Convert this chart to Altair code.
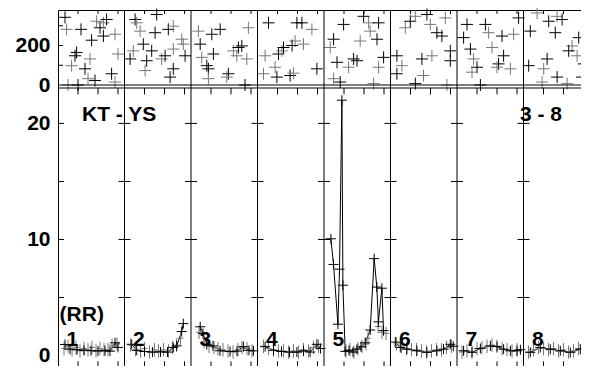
import altair as alt
import pandas as pd

FONT = "Liberation Sans"
SEG_HOURS = 3.325          # time span of one IF segment (hours)
N_SEG = 8
CHANNELS = [1, 2, 3, 4, 5, 6, 7, 8]
HOUR_TICKS = [1, 2, 3]
AMP_TICKS = [5, 10, 15, 20]
PHASE_TICKS = [100, 200, 300]

TITLE = "Freq =\u00a0\u00a043.1277 GHz, Bw =\u00a0\u00a0\u00a015.000 MHz\u00a0\u00a0Calibrate"

# ---- phase panel: (t [h], phase [deg], shade) per IF ----
PH1 = [(0.35, 343, 'k'), (0.43, 282, 'g'), (1.15, 282, 'k'), (1.93, 323, 'g'), (2.1, 290, 'k'),
       (2.27, 315, 'g'), (2.43, 332, 'k'), (1.68, 227, 'k'), (2.27, 248, 'k'), (2.85, 257, 'g'),
       (0.93, 165, 'k'), (0.85, 148, 'k'), (1.6, 132, 'g'), (0.68, 98, 'g'), (1.35, 82, 'k'),
       (3.0, 157, 'g'), (2.68, 57, 'k'), (1.5, 32, 'g'), (1.85, 23, 'k'), (2.85, 15, 'g'),
       (0.5, 0, 'g'), (1.0, 0, 'k')]
PH2 = [(0.53, 332, 'k'), (0.61, 315, 'g'), (1.61, 357, 'k'), (0.78, 273, 'g'), (1.53, 265, 'k'),
       (2.19, 282, 'k'), (2.44, 298, 'g'), (2.86, 232, 'g'), (0.94, 207, 'k'), (1.36, 173, 'k'),
       (0.44, 173, 'g'), (0.28, 132, 'k'), (1.11, 123, 'k'), (1.86, 132, 'g'), (2.03, 148, 'k'),
       (2.94, 207, 'g'), (3.03, 148, 'k'), (2.44, 182, 'g'), (1.03, 73, 'g'), (2.44, 82, 'k'),
       (2.28, 40, 'k')]
PH3 = [(0.37, 273, 'g'), (1.04, 257, 'k'), (1.46, 282, 'k'), (2.87, 290, 'g'), (0.46, 207, 'k'),
       (1.12, 157, 'k'), (0.54, 140, 'g'), (0.79, 98, 'k'), (0.87, 82, 'k'), (0.87, 32, 'g'),
       (1.87, 57, 'k'), (1.79, 40, 'g'), (2.12, 173, 'g'), (2.37, 190, 'k'), (2.54, 198, 'k'),
       (2.79, 132, 'g'), (2.7, 0, 'k'), (2.29, 148, 'g')]
PH4 = [(0.55, 315, 'k'), (0.38, 148, 'g'), (1.05, 157, 'k'), (1.22, 173, 'g'), (1.3, 190, 'k'),
       (1.88, 223, 'g'), (1.97, 315, 'k'), (0.88, 90, 'g'), (0.97, 40, 'k'), (0.3, 57, 'g'),
       (1.63, 48, 'k'), (2.22, 315, 'k'), (2.72, 282, 'g'), (1.73, 200, 'k'), (2.3, 207, 'g'),
       (2.97, 82, 'k'), (1.8, 60, 'g')]
PH5 = [(0.98, 307, 'k'), (1.98, 348, 'k'), (2.23, 315, 'g'), (2.73, 315, 'k'), (2.31, 273, 'g'),
       (2.65, 232, 'k'), (1.81, 223, 'g'), (0.48, 232, 'k'), (0.31, 190, 'g'), (1.48, 132, 'k'),
       (1.65, 123, 'k'), (1.23, 90, 'g'), (0.65, 115, 'k'), (0.48, 32, 'g'), (0.81, 15, 'k'),
       (2.48, 7, 'g'), (2.98, 140, 'k'), (2.73, 90, 'g')]
PH6 = [(0.74, 290, 'g'), (0.99, 323, 'k'), (1.24, 348, 'g'), (1.82, 357, 'k'), (2.74, 340, 'g'),
       (2.32, 265, 'k'), (2.57, 248, 'k'), (1.99, 307, 'g'), (2.99, 173, 'k'), (2.07, 148, 'g'),
       (1.57, 132, 'k'), (0.32, 148, 'k'), (0.57, 98, 'g'), (0.32, 57, 'k'), (1.65, 48, 'g'),
       (1.24, 7, 'k'), (2.82, 0, 'g'), (2.99, 123, 'k')]
PH7 = [(0.5, 307, 'k'), (1.42, 307, 'k'), (1.58, 265, 'g'), (0.33, 240, 'k'), (0.67, 182, 'k'),
       (0.83, 132, 'g'), (1.0, 90, 'k'), (1.75, 190, 'g'), (2.33, 148, 'k'), (2.25, 248, 'k'),
       (2.83, 257, 'g'), (3.08, 340, 'k'), (2.08, 107, 'k'), (2.67, 82, 'g'), (1.17, 0, 'k'),
       (2.0, 90, 'g'), (0.75, 65, 'g')]
PH8 = [(0.68, 365, 'g'), (0.34, 273, 'k'), (1.26, 323, 'k'), (1.68, 348, 'g'), (1.93, 332, 'k'),
       (1.59, 265, 'k'), (2.76, 240, 'k'), (2.43, 198, 'g'), (2.26, 173, 'k'), (2.68, 148, 'g'),
       (0.26, 98, 'k'), (1.18, 132, 'k'), (1.01, 82, 'g'), (1.68, 40, 'k'), (0.93, 15, 'g'),
       (3.01, 107, 'k'), (2.93, 40, 'k'), (2.18, 7, 'g')]
PHASES = [PH1, PH2, PH3, PH4, PH5, PH6, PH7, PH8]

# ---- amplitude panel: solution points (black, connected) ----
AM1 = [(0.35, 0.95), (0.6, 0.55), (0.95, 0.5), (1.3, 0.45), (1.65, 0.42), (2.0, 0.4),
       (2.35, 0.42), (2.6, 0.38), (2.85, 1.1), (3.0, 0.7)]
AM2 = [(0.36, 0.97), (0.61, 0.45), (1.0, 0.35), (1.4, 0.3), (1.8, 0.32), (2.15, 0.3),
       (2.44, 0.69), (2.61, 0.83), (2.86, 2.07), (2.94, 2.75)]
AM3 = [(0.46, 2.48), (0.6, 1.9), (0.79, 0.97), (1.1, 0.83), (1.45, 0.41), (1.95, 0.35),
       (2.3, 0.38), (2.62, 0.77), (2.9, 0.45), (3.12, 0.41)]
AM4 = [(0.38, 0.77), (0.8, 0.45), (1.2, 0.35), (1.6, 0.3), (1.97, 0.3), (2.3, 0.41),
       (2.63, 0.3), (2.97, 0.97), (3.15, 0.6)]
AM5 = [(0.345, 10.06), (0.475, 7.85), (0.695, 2.7), (0.775, 7.44), (0.895, 22.0), (0.945, 6.06),
       (1.06, 0.36), (1.25, 0.45), (1.45, 0.3), (1.65, 0.55), (1.85, 0.75), (2.06, 1.1),
       (2.31, 2.2), (2.51, 8.35), (2.64, 5.9), (2.72, 2.9), (2.895, 5.8), (2.975, 2.15)]
AM6 = [(0.24, 1.16), (0.49, 0.69), (0.82, 0.55), (1.32, 0.41), (1.82, 0.28), (2.32, 0.41),
       (2.65, 0.55), (2.99, 0.97), (3.14, 0.8)]
AM7 = [(0.33, 0.41), (0.75, 0.28), (1.17, 0.61), (1.67, 0.83), (2.0, 0.77), (2.33, 0.55),
       (2.67, 0.41), (3.0, 0.41), (3.17, 0.5)]
AM8 = [(0.34, 0.28), (0.84, 0.69), (1.34, 0.55), (1.84, 0.41), (2.34, 0.28), (2.84, 0.55),
       (3.18, 0.69)]
AMPS = [AM1, AM2, AM3, AM4, AM5, AM6, AM7, AM8]

# ---- amplitude panel: data points (grey) ----
GR1 = [(0.3, 0.6), (0.5, 0.8), (0.7, 0.5), (0.9, 0.7), (1.1, 0.4), (1.3, 0.6), (1.5, 0.5),
       (1.7, 0.7), (1.9, 0.4), (2.1, 0.6), (2.3, 0.5), (2.5, 0.5), (2.7, 0.9), (2.95, 1.0)]
GR2 = [(0.3, 0.9), (0.55, 0.5), (0.8, 0.4), (1.0, 0.6), (1.25, 0.3), (1.5, 0.5), (1.7, 0.4),
       (1.95, 0.5), (2.2, 0.4), (2.4, 0.7), (2.6, 0.9), (2.8, 1.5)]
GR3 = [(0.4, 2.0), (0.65, 1.2), (0.9, 0.8), (1.15, 0.7), (1.35, 0.6), (1.6, 0.5), (1.85, 0.4),
       (2.1, 0.3), (2.35, 0.5), (2.55, 0.7), (2.8, 0.6), (3.05, 0.4)]
GR4 = [(0.3, 0.8), (0.55, 0.6), (0.8, 0.5), (1.05, 0.4), (1.3, 0.4), (1.55, 0.3), (1.8, 0.4),
       (2.05, 0.3), (2.3, 0.5), (2.55, 0.4), (2.8, 0.7), (3.05, 0.8)]
GR5 = [(1.1, 0.4), (1.3, 0.5), (1.5, 0.3), (1.7, 0.6), (1.9, 0.8), (2.1, 1.0), (2.2, 1.5),
       (2.7, 2.5), (2.9, 2.0), (3.1, 1.9)]
GR6 = [(0.3, 1.0), (0.55, 0.8), (0.8, 0.6), (1.05, 0.5), (1.3, 0.5), (1.55, 0.4), (1.8, 0.3),
       (2.05, 0.4), (2.3, 0.5), (2.55, 0.5), (2.8, 0.7), (3.05, 0.8)]
GR7 = [(0.25, 0.3), (0.5, 0.4), (0.75, 0.3), (1.0, 0.6), (1.25, 0.7), (1.5, 0.8), (1.75, 0.9),
       (2.0, 0.8), (2.25, 0.6), (2.5, 0.5), (2.75, 0.4), (3.0, 0.5)]
GR8 = [(0.25, 0.3), (0.5, 0.5), (0.75, 0.7), (1.0, 0.6), (1.25, 0.5), (1.5, 0.6), (1.75, 0.4),
       (2.0, 0.5), (2.25, 0.3), (2.5, 0.4), (2.75, 0.6), (3.0, 0.5)]
GREYS = [GR1, GR2, GR3, GR4, GR5, GR6, GR7, GR8]

# ---- labels ----
BASELINE_LABEL = "KT - YS"
SOURCE_LABEL = "3 - 8"
POL_LABEL = "(RR)"

# ---------------- build tables ----------------
def seg_x(ch, t):
    return (ch - 1) * SEG_HOURS + t

phase_df = pd.DataFrame([dict(x=seg_x(ch, t), phase=p, shade=s)
                         for ch, seg in zip(CHANNELS, PHASES) for t, p, s in seg])
amp_df = pd.DataFrame([dict(x=seg_x(ch, t), amp=a, ch=ch, t=t)
                       for ch, seg in zip(CHANNELS, AMPS) for t, a in seg])
grey_df = pd.DataFrame([dict(x=seg_x(ch, t), amp=a)
                        for ch, seg in zip(CHANNELS, GREYS) for t, a in seg])
bounds_df = pd.DataFrame(dict(x=[seg_x(ch, 0) for ch in CHANNELS[1:]]))
edges_df = pd.DataFrame(dict(x=[seg_x(ch, 0) for ch in CHANNELS] + [N_SEG * SEG_HOURS]))
htick_df = pd.DataFrame([dict(x=seg_x(ch, h)) for ch in CHANNELS for h in HOUR_TICKS])
ytick_df = pd.DataFrame([dict(x=e, amp=v) for e in edges_df.x for v in AMP_TICKS])
ptick_df = pd.DataFrame([dict(x=0.0, phase=v) for v in PHASE_TICKS])
chlab_df = pd.DataFrame(dict(x=[seg_x(ch, 0.42) for ch in CHANNELS],
                             amp=[0.8] * N_SEG, label=[str(c) for c in CHANNELS]))
toplab_df = pd.DataFrame(dict(x=[1.2, 23.1, 0.08], amp=[20.2, 20.2, 2.95],
                              label=[BASELINE_LABEL, SOURCE_LABEL, POL_LABEL]))

AMP_MIN, AMP_MAX = -0.9, 23.05
X_SCALE = alt.Scale(domain=[0, N_SEG * SEG_HOURS], nice=False, zero=False)
TOP_Y = alt.Scale(domain=[0, 380], range=[75, 0], nice=False, zero=False)
AMP_Y = alt.Scale(domain=[AMP_MIN, AMP_MAX], range=[356, 78], nice=False, zero=False)

def xenc(field="x"):
    return alt.X(f"{field}:Q", scale=X_SCALE, axis=None)

def label_axis(values):
    return alt.Axis(values=values, orient="left", ticks=False, tickSize=0, domain=False,
                    grid=False, labelPadding=8, labelFontSize=21, labelFont=FONT,
                    labelFontWeight="bold", labelColor="black", title=None, labelFlush=False)

PLUS = "M-1,0L1,0M0,-1L0,1"
GBAR = "M-0.45,0L0.45,0M0,-1L0,1"

phase_pts = alt.Chart(phase_df).mark_point(shape=PLUS, size=144, filled=False,
                                           strokeWidth=1, opacity=1).encode(
    x=xenc(),
    y=alt.Y("phase:Q", scale=TOP_Y, axis=label_axis([0, 200])),
    color=alt.Color("shade:N", scale=alt.Scale(domain=["k", "g"], range=["black", "#777777"]),
                    legend=None),
)

grey_pts = alt.Chart(grey_df).mark_point(shape=GBAR, size=180, filled=False, strokeWidth=1,
                                         color="#777777", opacity=1).encode(
    x=xenc(), y=alt.Y("amp:Q", scale=AMP_Y, axis=None))

amp_line = alt.Chart(amp_df).mark_line(color="black", strokeWidth=1).encode(
    x=xenc(), y=alt.Y("amp:Q", scale=AMP_Y, axis=label_axis([0, 10, 20])),
    detail="ch:N", order="t:Q")

amp_pts = alt.Chart(amp_df).mark_point(shape=PLUS, size=100, filled=False, strokeWidth=1,
                                       color="black", opacity=1).encode(
    x=xenc(), y=alt.Y("amp:Q", scale=AMP_Y, axis=None))

# panel frames and IF separators
seps = alt.Chart(bounds_df).mark_rule(color="black", strokeWidth=1).encode(x=xenc())
top_base = alt.Chart(pd.DataFrame(dict(phase=[0]))).mark_rule(color="black", strokeWidth=1).encode(
    y=alt.Y("phase:Q", scale=TOP_Y, axis=None))
amp_top = alt.Chart(pd.DataFrame(dict(amp=[AMP_MAX]))).mark_rule(color="black", strokeWidth=1).encode(
    y=alt.Y("amp:Q", scale=AMP_Y, axis=None))

# hour ticks
ht_top = alt.Chart(htick_df).transform_calculate(p1="380", p2="360").mark_rule(
    color="black", strokeWidth=1).encode(
    x=xenc(), y=alt.Y("p1:Q", scale=TOP_Y, axis=None), y2="p2:Q")
ht_mid = alt.Chart(htick_df).transform_calculate(a1=str(AMP_MAX), a2="22.5").mark_rule(
    color="black", strokeWidth=1).encode(
    x=xenc(), y=alt.Y("a1:Q", scale=AMP_Y, axis=None), y2="a2:Q")
ht_bot = alt.Chart(htick_df).transform_calculate(a1=str(AMP_MIN), a2="-0.5").mark_rule(
    color="black", strokeWidth=1).encode(
    x=xenc(), y=alt.Y("a1:Q", scale=AMP_Y, axis=None), y2="a2:Q")

# amplitude ticks on frame and separators
yt = alt.Chart(ytick_df).transform_calculate(
    xa="datum.x - 0.3", xb="datum.x + 0.3").mark_rule(
    color="black", strokeWidth=1, clip=True).encode(
    x=xenc("xa"), x2="xb:Q", y=alt.Y("amp:Q", scale=AMP_Y, axis=None))
pt = alt.Chart(ptick_df).transform_calculate(xb="datum.x + 0.25").mark_rule(
    color="black", strokeWidth=1).encode(
    x=xenc(), x2="xb:Q", y=alt.Y("phase:Q", scale=TOP_Y, axis=None))

txt_style = dict(font=FONT, fontSize=21, fontWeight="bold", color="black",
                 align="left", baseline="alphabetic")
ch_labels = alt.Chart(chlab_df).mark_text(**txt_style).encode(
    x=xenc(), y=alt.Y("amp:Q", scale=AMP_Y, axis=None), text="label:N")
top_labels = alt.Chart(toplab_df).mark_text(**txt_style).encode(
    x=xenc(), y=alt.Y("amp:Q", scale=AMP_Y, axis=None), text="label:N")

chart = alt.layer(
    phase_pts, amp_line, grey_pts, amp_pts, seps, top_base, amp_top,
    ht_top, ht_mid, ht_bot, yt, pt, ch_labels, top_labels,
).resolve_scale(y="independent").properties(
    width=532, height=356,
    autosize=alt.AutoSizeParams(type="none"),
    padding={"left": 50, "top": 2, "right": -9, "bottom": 0},
    title=alt.TitleParams(TITLE, anchor="start", frame="group", offset=-1, dx=1,
                          baseline="alphabetic", font=FONT, fontSize=21,
                          fontWeight="bold", color="black"),
).configure_view(stroke="black", strokeWidth=1)

chart.save("out.html", embed_options={"renderer": "svg", "actions": False})
